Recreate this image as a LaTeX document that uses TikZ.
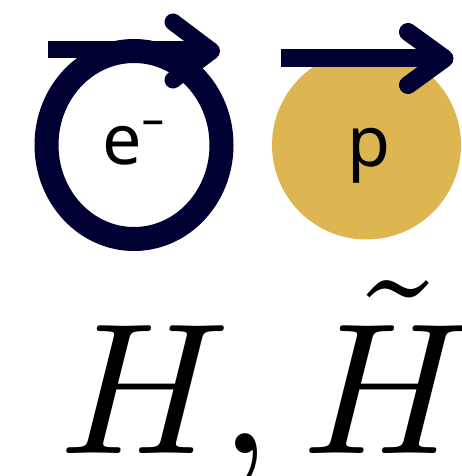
\documentclass[tikz,border=0pt]{standalone}
\usepackage{graphicx}
\usepackage{fontspec}
\newfontfamily\labelfont{Noto Sans}
\definecolor{navy}{RGB}{0,0,50}
\definecolor{gold}{RGB}{221,182,81}
\tikzset{
  barline/.style={navy, line width=17pt, line cap=butt},
  headline/.style={navy, line width=17pt, line cap=round, line join=round},
  particletext/.style={inner sep=0pt, anchor=base, font=\labelfont\fontsize{70}{80}\selectfont},
}
\begin{document}
\begin{tikzpicture}[x=1pt,y=-1pt]
\useasboundingbox (0,0) rectangle (461,476);
% electron
\draw[navy, line width=24pt] (134,145) ellipse [x radius=87.5, y radius=94];
\coordinate (ebs) at (48,50);
\coordinate (ebe) at (205,50);
\coordinate (eh1) at (173,22);
\coordinate (eht) at (211.5,51);
\coordinate (eh2) at (173,80);
\draw[barline] (ebs) -- (ebe);
\draw[headline] (eh1) -- (eht) -- (eh2);
\node[particletext] (e) at (134,164) {e⁻};
% proton
\fill[gold] (366.5,145) circle [radius=94.5];
\coordinate (pbs) at (281,58);
\coordinate (pbe) at (438,58);
\coordinate (ph1) at (408,32);
\coordinate (pht) at (444.5,58.5);
\coordinate (ph2) at (408,85);
\draw[barline, line width=18pt] (pbs) -- (pbe);
\draw[headline, line width=18pt] (ph1) -- (pht) -- (ph2);
\node[particletext] (p) at (369,166) {p};
% GPDs
\node[inner sep=0pt, anchor=base west] (gpd) at (59,453) {\scalebox{18.7}{$H,\tilde{H}$}};
\end{tikzpicture}
\end{document}
